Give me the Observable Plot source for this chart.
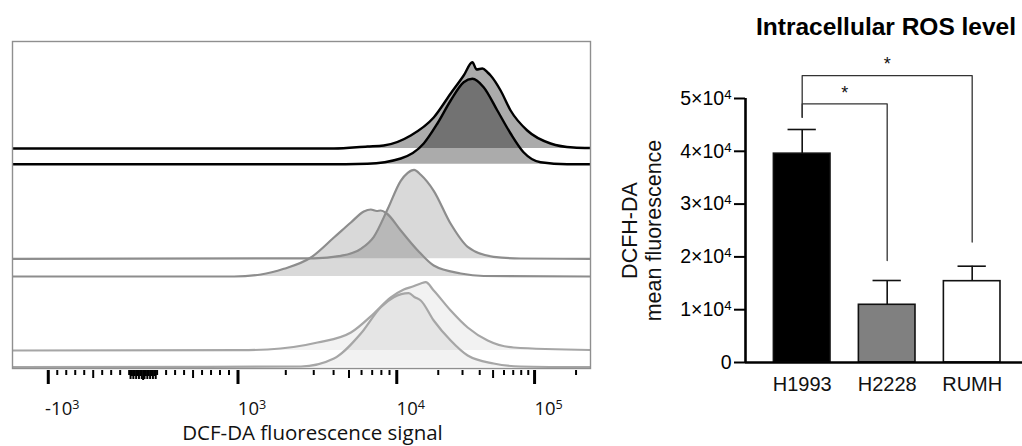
<!DOCTYPE html>
<html>
<head>
<meta charset="utf-8">
<script src="https://cdn.jsdelivr.net/npm/d3@7"></script>
<script src="https://cdn.jsdelivr.net/npm/@observablehq/plot@0.6"></script>
<style>
  body { margin: 0; background: #fff; }
  #wrap { position: relative; width: 1022px; height: 446px; overflow: hidden; }
  #left, #right { position: absolute; top: 0; }
  #left { left: 0; }
  #right { left: 600px; }
  #right svg g[aria-label^="y-axis"] line,
  #right svg g[aria-label^="y-axis"] path { stroke-width: 2px; stroke: #000; }
</style>
</head>
<body>
<div id="wrap"><div id="left"></div><div id="right"></div></div>
<script>
// ---------------- Left panel: flow cytometry histograms ----------------
// each curve: [DCF-DA fluorescence, count (normalized)]
const h1993Stained = [[-1680,0],[2490,0],[4020,0],[6540,2],[8280,3],[12630,13],[18540,31],[24620,55],[30590,73],[35370,86.3],[38000,79],[41780,80],[45650,76],[48000,73],[56700,58],[67000,38],[88500,18],[130600,5],[191700,1],[254600,0.5]];
const h1993Control = [[-1680,0],[3470,0],[6540,0.5],[10690,5.7],[15690,20.7],[19720,40.7],[24620,63.7],[30590,82],[35370,85.4],[42700,77],[53670,53.7],[67000,30.7],[83200,12],[110500,2],[172600,0],[254600,0]];
const h2228Stained = [[-1680,0],[3005,0.5],[4440,3],[5940,10],[7170,22],[8780,50],[10690,78],[12010,86],[13350,89],[14930,84],[18540,68],[24620,35],[32700,12],[50450,2],[79200,0.3],[254600,0]];
const h2228Control = [[-1680,0],[958,0],[1395,2],[1946,7.7],[2878,19],[4020,39],[5140,54],[6200,65],[6860,67],[7480,65.5],[7930,66],[8650,63],[10690,46],[14200,26],[18540,11],[29100,3],[42700,0.5],[254600,0]];
const rumhStained = [[-1680,0],[1044,0.3],[1538,1],[3170,8],[5140,18],[7170,37],[9170,53],[11240,61],[13060,64],[14930,67],[16220,68.3],[18540,60],[24620,40],[32700,23],[45650,10],[70400,3],[254600,0.5]];
const rumhControl = [[-1680,0],[2490,0.7],[4020,8.7],[5940,33.7],[7930,60],[9580,70],[12220,74],[13500,70],[14930,66.7],[18540,46.7],[24620,26.7],[32700,11.7],[50450,3.7],[79200,0.7],[254600,0]];

const curveNames = ["h1993Stained","h1993Control","h2228Stained","h2228Control","rumhStained","rumhControl"];
const curveData = [h1993Stained, h1993Control, h2228Stained, h2228Control, rumhStained, rumhControl];
const curveOffsets = [220, 204.3, 109.7, 92, 18, 1.3];
const curveStroke = ["#000","#000","#8d8d8d","#8d8d8d","#a6a6a6","#a6a6a6"];
const curveFillOpacity = [0.33, 0.33, 0.15, 0.15, 0.05, 0.05];
const curveStrokeWidth = [2.4, 2.4, 2.2, 2.2, 2.2, 2.2];

const xMajorTicks = [-1000, 1000, 10000, 100000];
const xMajorLabels = ["-10^3", "10^3", "10^4", "10^5"];
const xAxisTitle = "DCF-DA fluorescence signal";

// logicle-like display transform of the cytometer axis
function logicle(v) {
  const a = Math.abs(v);
  let t;
  if (a <= 100) t = a / 100 * 14;
  else if (a <= 1000) t = 14 + (a - 100) / 900 * 81;
  else {
    const l = Math.log10(a);
    if (v < 0 || l <= 4) t = 95 + 159 * (l - 3);
    else t = 95 + 159 + 138 * (l - 4);
  }
  return Math.sign(v) * t;
}

// tick set of a logicle axis
const tickSet = [];
for (const s of [-1, 1]) {
  for (let k = 1; k <= 9; k++) tickSet.push({v: s * k * 10, len: k % 2 ? 9 : 6});
  for (let k = 1; k <= 9; k++) tickSet.push({v: s * k * 100, len: k === 5 ? 8 : 5});
}
tickSet.push({v: 0, len: 10});
for (const dec of [1000, 10000, 100000]) {
  for (let k = 2; k <= 9; k++) if (k * dec <= 250000) tickSet.push({v: k * dec, len: k === 5 ? 8 : 5});
}
for (const v of xMajorTicks) tickSet.push({v, len: 14, major: true});

const areas = curveData.map((data, i) => Plot.areaY(data, {
  x: d => logicle(d[0]), y1: curveOffsets[i], y2: d => curveOffsets[i] + d[1],
  fill: "#000", fillOpacity: curveFillOpacity[i], curve: "monotone-x", clip: true
}));
const lines = curveData.map((data, i) => Plot.lineY(data, {
  x: d => logicle(d[0]), y: d => curveOffsets[i] + d[1],
  stroke: curveStroke[i], strokeWidth: curveStrokeWidth[i], curve: "monotone-x", clip: true
}));

const leftPlot = Plot.plot({
  width: 600, height: 446,
  marginLeft: 12, marginRight: 10, marginTop: 41, marginBottom: 78,
  x: {domain: [logicle(-1680), logicle(254600)], axis: null},
  y: {domain: [0, 327], axis: null},
  style: {fontFamily: "'Open Sans', sans-serif", background: "transparent", overflow: "visible"},
  marks: [
    ...areas,
    ...lines,
    Plot.frame({stroke: "#8f8f8f", strokeWidth: 1.4}),
    Plot.ruleX(tickSet, {x: d => logicle(d.v), y1: -2, y2: d => -2 - d.len, stroke: "#000", strokeWidth: d => d.major ? 3 : 2}),
    Plot.text(xMajorTicks, {x: d => logicle(d), y: -46, text: (d, i) => xMajorLabels[i], dx: 14, fontSize: 18.5, lineAnchor: "bottom", textAnchor: "middle", fill: "#111"}),
    Plot.text([xAxisTitle], {frameAnchor: "bottom", dx: 11, dy: 71, lineAnchor: "bottom", fontSize: 20.5, fill: "#111"})
  ]
});

// ---------------- Right panel: bar chart ----------------
const cellLines = ["H1993", "H2228", "RUMH"];
const meanFluor = [39550, 10930, 15400];
const sdFluor = [4580, 4600, 2840];
const barColors = ["#000000", "#808080", "#ffffff"];
const yTicks = [0, 10000, 20000, 30000, 40000, 50000];
const comparisons = [
  {from: "H1993", to: "H2228", top: 49000, fromEnd: 46450, toEnd: 19300, label: "*"},
  {from: "H1993", to: "RUMH", top: 54350, fromEnd: 46450, toEnd: 22800, label: "*"}
];
const chartTitle = "Intracellular ROS level";
const yLabel = "DCFH-DA\nmean fluorescence";

const bars = cellLines.map((name, i) => ({name, i, mean: meanFluor[i], sd: sdFluor[i], color: barColors[i]}));
const halfBar = 0.333;
const bracketPts = [];
comparisons.forEach((c, k) => {
  const a = cellLines.indexOf(c.from), b = cellLines.indexOf(c.to);
  bracketPts.push({k, x: a, y: c.fromEnd}, {k, x: a, y: c.top}, {k, x: b, y: c.top}, {k, x: b, y: c.toEnd});
});
const stars = comparisons.map(c => ({x: (cellLines.indexOf(c.from) + cellLines.indexOf(c.to)) / 2, y: c.top, label: c.label}));

const rightPlot = Plot.plot({
  width: 422, height: 446,
  marginLeft: 145, marginRight: 0, marginTop: 98, marginBottom: 84,
  x: {domain: [-0.667, 2.592], axis: null},
  y: {domain: [0, 50000], ticks: yTicks, tickSize: 11, tickPadding: 3, label: null,
      tickFormat: d => d === 0 ? "0" : `${d / 10000}×10^4`},
  style: {fontFamily: "'Liberation Sans', Arial, sans-serif", fontSize: "19.5px", background: "transparent", overflow: "visible", color: "#000"},
  marks: [
    Plot.rectY(bars, {x1: d => d.i - halfBar, x2: d => d.i + halfBar, y1: 0, y2: "mean", fill: "color", stroke: "#111", strokeWidth: 1.6}),
    Plot.ruleX(bars, {x: "i", y1: "mean", y2: d => d.mean + d.sd, stroke: "#111", strokeWidth: 1.6}),
    Plot.ruleY(bars, {y: d => d.mean + d.sd, x1: d => d.i - halfBar / 2, x2: d => d.i + halfBar / 2, stroke: "#111", strokeWidth: 1.6}),
    Plot.line(bracketPts, {x: "x", y: "y", z: "k", stroke: "#333", strokeWidth: 1.3}),
    Plot.text(stars, {x: "x", y: "y", text: "label", dy: -11, fontSize: 18, fill: "#111"}),
    Plot.ruleY([0], {stroke: "#000", strokeWidth: 2.6}),
    Plot.ruleX([-0.667], {y1: 0, y2: 50000, stroke: "#000", strokeWidth: 2.6}),
    Plot.text(bars, {x: "i", y: 0, text: "name", dy: 28, lineAnchor: "bottom", fontSize: 20, fill: "#111"}),
    Plot.text([chartTitle], {frameAnchor: "top", dx: 2, dy: -64, lineAnchor: "bottom", fontSize: 24.5, fontWeight: "bold", fill: "#000"}),
    Plot.text([yLabel], {frameAnchor: "left", dx: -104.5, rotate: -90, textAnchor: "middle", lineAnchor: "middle", fontSize: 21.5, lineHeight: 1.16, fill: "#111"})
  ]
});

function supify(svg) {
  const ns = "http://www.w3.org/2000/svg";
  svg.querySelectorAll("text").forEach(t => {
    const s = t.textContent;
    if (!s.includes("^") || t.children.length > 1) return;
    const [base, exp] = s.split("^");
    t.textContent = "";
    const a = document.createElementNS(ns, "tspan"); a.textContent = base;
    const b = document.createElementNS(ns, "tspan"); b.textContent = exp;
    b.setAttribute("dy", "-0.45em"); b.setAttribute("font-size", "0.68em");
    t.append(a, b);
  });
}
supify(leftPlot); supify(rightPlot);
document.getElementById("left").append(leftPlot);
document.getElementById("right").append(rightPlot);
</script>
</body>
</html>
